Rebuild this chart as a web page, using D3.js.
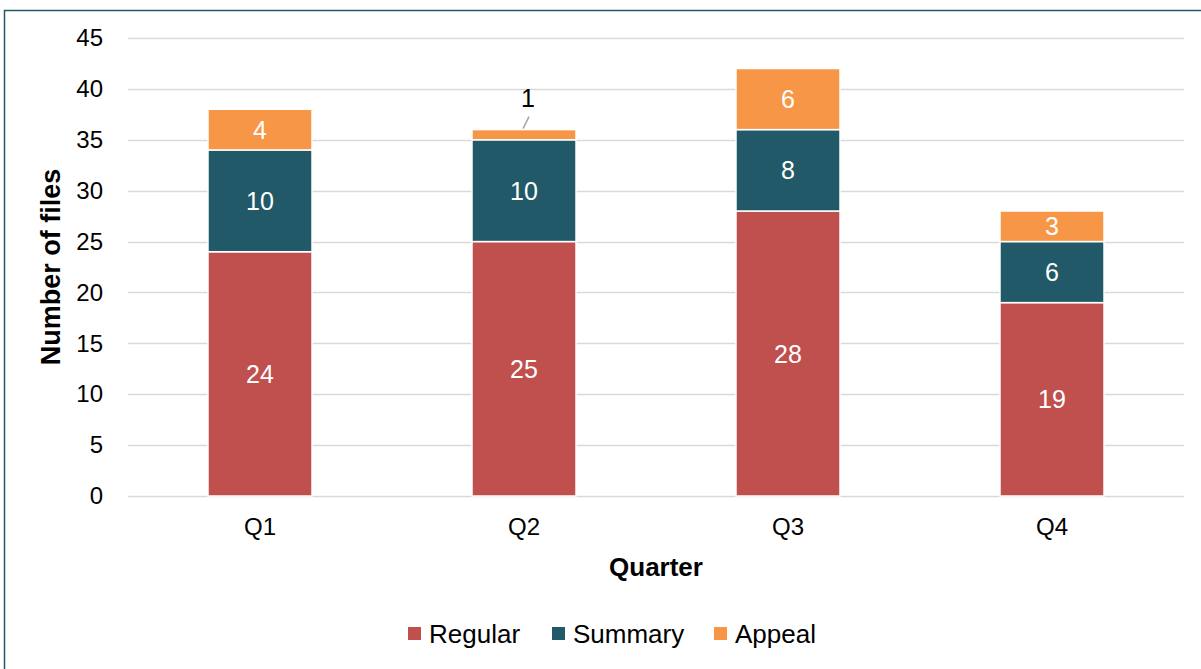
<!DOCTYPE html>
<html>
<head>
<meta charset="utf-8">
<script src="https://cdn.jsdelivr.net/npm/d3@7"></script>
<style>
  body { margin: 0; background: #fff; }
  svg { display: block; font-family: "Liberation Sans", Arial, sans-serif; }
</style>
</head>
<body>
<div id="chart"></div>
<script>
// Dades
const quarters = ["Q1", "Q2", "Q3", "Q4"];
const regular = [24, 25, 28, 19];
const summary = [10, 10, 8, 6];
const appeal = [4, 1, 6, 3];
const seriesNames = ["Regular", "Summary", "Appeal"];
const seriesColors = ["#C0504D", "#215968", "#F79646"];
const yTicks = [0, 5, 10, 15, 20, 25, 30, 35, 40, 45];

const W = 1201, H = 669;
const margin = { top: 38, right: 17, bottom: 173, left: 128 };
const width = W - margin.left - margin.right;
const height = 496 - margin.top;

const svg = d3.select("#chart").append("svg")
    .attr("width", W)
    .attr("height", H);

// Marc exterior
svg.append("rect")
    .attr("x", 4.5).attr("y", 10.5)
    .attr("width", W + 10).attr("height", H + 10)
    .attr("fill", "none")
    .attr("stroke", "#215968")
    .attr("stroke-width", 1.5);

const g = svg.append("g")
    .attr("transform", `translate(${margin.left},${margin.top})`);

const x = d3.scaleBand()
    .domain(quarters)
    .range([0, width])
    .paddingInner(0.606)
    .paddingOuter(0.303);

const y = d3.scaleLinear()
    .domain([0, 45])
    .range([height, 0]);

// Graella
g.append("g")
    .selectAll("line")
    .data(yTicks)
    .enter()
    .append("line")
    .attr("x1", 0).attr("x2", width)
    .attr("y1", d => Math.round(y(d)) + 0.5)
    .attr("y2", d => Math.round(y(d)) + 0.5)
    .attr("stroke", "#d9d9d9")
    .attr("stroke-width", 1.5);

// Dades apilades
const table = quarters.map((q, i) => ({
    quarter: q, Regular: regular[i], Summary: summary[i], Appeal: appeal[i]
}));
const stacked = d3.stack().keys(seriesNames)(table);

const layers = g.selectAll(".layer")
    .data(stacked)
    .enter()
    .append("g")
    .attr("fill", (d, i) => seriesColors[i]);

layers.selectAll("rect")
    .data(d => d)
    .enter()
    .append("rect")
    .attr("x", d => x(d.data.quarter))
    .attr("y", d => y(d[1]))
    .attr("width", x.bandwidth())
    .attr("height", d => y(d[0]) - y(d[1]))
    .attr("stroke", "#fff")
    .attr("stroke-width", 1.5);

// Etiquetes de valors
stacked.forEach(layer => {
    layer.forEach(d => {
        const v = d[1] - d[0];
        const cx = x(d.data.quarter) + x.bandwidth() / 2;
        const segH = y(d[0]) - y(d[1]);
        if (segH > 20) {
            g.append("text")
                .attr("x", cx)
                .attr("y", (y(d[0]) + y(d[1])) / 2)
                .attr("dy", "0.36em")
                .attr("text-anchor", "middle")
                .attr("font-size", "25px")
                .attr("fill", "#fff")
                .text(v);
        } else {
            // etiqueta a fora amb línia guia
            g.append("line")
                .attr("x1", cx - 1).attr("y1", y(d[1]) - 1)
                .attr("x2", cx + 5).attr("y2", y(d[1]) - 13)
                .attr("stroke", "#a6a6a6")
                .attr("stroke-width", 1.5);
            g.append("text")
                .attr("x", cx + 4)
                .attr("y", y(d[1]) - 32)
                .attr("dy", "0.36em")
                .attr("text-anchor", "middle")
                .attr("font-size", "25px")
                .attr("fill", "#000")
                .text(v);
        }
    });
});

// Eixos
const yAxis = g.append("g")
    .call(d3.axisLeft(y).tickValues(yTicks).tickSize(0).tickPadding(25));
yAxis.select(".domain").remove();
yAxis.selectAll("text")
    .attr("font-size", "24px")
    .attr("font-family", "Liberation Sans, Arial, sans-serif")
    .attr("fill", "#000");

const xAxis = g.append("g")
    .attr("transform", `translate(0,${height})`)
    .call(d3.axisBottom(x).tickSize(0).tickPadding(22));
xAxis.select(".domain").remove();
xAxis.selectAll("text")
    .attr("font-size", "24px")
    .attr("font-family", "Liberation Sans, Arial, sans-serif")
    .attr("fill", "#000");

// Títols dels eixos
svg.append("text")
    .attr("x", margin.left + width / 2)
    .attr("y", 576)
    .attr("text-anchor", "middle")
    .attr("font-size", "26px")
    .attr("font-weight", "bold")
    .text("Quarter");

svg.append("text")
    .attr("transform", `translate(60,${margin.top + height / 2}) rotate(-90)`)
    .attr("text-anchor", "middle")
    .attr("font-size", "27px")
    .attr("font-weight", "bold")
    .text("Number of files");

// Llegenda
const legendX = [408, 552, 714];
const legend = svg.append("g");
seriesNames.forEach((name, i) => {
    legend.append("rect")
        .attr("x", legendX[i]).attr("y", 627)
        .attr("width", 13).attr("height", 13)
        .attr("fill", seriesColors[i]);
    legend.append("text")
        .attr("x", legendX[i] + 21)
        .attr("y", 634)
        .attr("dy", "0.36em")
        .attr("font-size", "26px")
        .text(name);
});
</script>
</body>
</html>
